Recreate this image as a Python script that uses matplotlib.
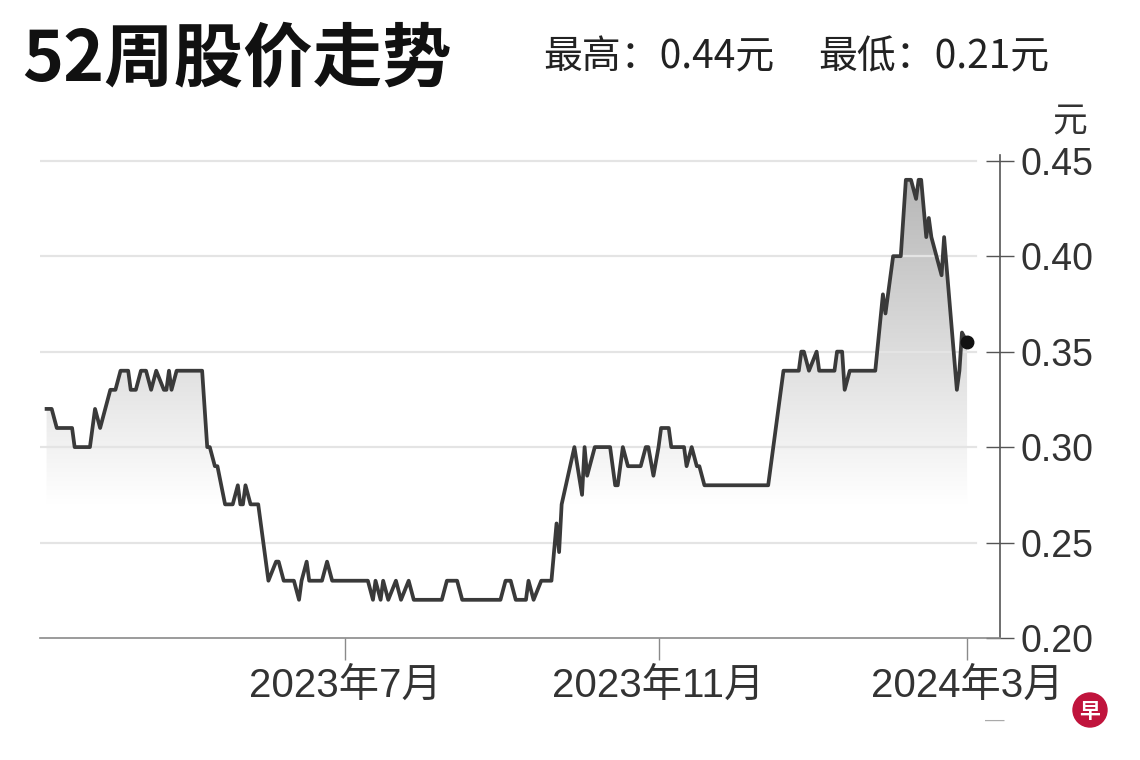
import numpy as np
import pandas as pd
import matplotlib
matplotlib.use('Agg')
import matplotlib.pyplot as plt
from matplotlib.patches import Ellipse

plt.rcParams['font.family'] = ['Liberation Sans', 'Noto Sans CJK SC', 'DejaVu Sans']

# 52-week closing prices (yuan)
dates = [
    '2023-03-06', '2023-03-08', '2023-03-10', '2023-03-16', '2023-03-17', '2023-03-23',
    '2023-03-25', '2023-03-27', '2023-03-29', '2023-03-31', '2023-04-02', '2023-04-04',
    '2023-04-07', '2023-04-08', '2023-04-10', '2023-04-12', '2023-04-14', '2023-04-16',
    '2023-04-18', '2023-04-21', '2023-04-22', '2023-04-23', '2023-04-24', '2023-04-26',
    '2023-05-06', '2023-05-08', '2023-05-09', '2023-05-11', '2023-05-12', '2023-05-15',
    '2023-05-18', '2023-05-20', '2023-05-21', '2023-05-22', '2023-05-23', '2023-05-25',
    '2023-05-28', '2023-06-01', '2023-06-04', '2023-06-05', '2023-06-07', '2023-06-11',
    '2023-06-13', '2023-06-14', '2023-06-16', '2023-06-17', '2023-06-22', '2023-06-24',
    '2023-06-26', '2023-07-10', '2023-07-12', '2023-07-13', '2023-07-15', '2023-07-16',
    '2023-07-18', '2023-07-21', '2023-07-23', '2023-07-26', '2023-07-28', '2023-08-08',
    '2023-08-10', '2023-08-14', '2023-08-16', '2023-08-31', '2023-09-02', '2023-09-04',
    '2023-09-06', '2023-09-10', '2023-09-11', '2023-09-13', '2023-09-16', '2023-09-20',
    '2023-09-22', '2023-09-23', '2023-09-24', '2023-09-29', '2023-10-02', '2023-10-03',
    '2023-10-04', '2023-10-06', '2023-10-07', '2023-10-13', '2023-10-15', '2023-10-16',
    '2023-10-18', '2023-10-20', '2023-10-25', '2023-10-27', '2023-10-28', '2023-10-30',
    '2023-11-01', '2023-11-02', '2023-11-05', '2023-11-06', '2023-11-11', '2023-11-12',
    '2023-11-14', '2023-11-16', '2023-11-17', '2023-11-19', '2023-12-14', '2023-12-20',
    '2023-12-26', '2023-12-27', '2023-12-28', '2023-12-30', '2024-01-02', '2024-01-03',
    '2024-01-09', '2024-01-10', '2024-01-12', '2024-01-13', '2024-01-15', '2024-01-25',
    '2024-01-28', '2024-01-29', '2024-02-01', '2024-02-04', '2024-02-06', '2024-02-08',
    '2024-02-10', '2024-02-11', '2024-02-12', '2024-02-14', '2024-02-15', '2024-02-16',
    '2024-02-20', '2024-02-21', '2024-02-26', '2024-02-27', '2024-02-28', '2024-03-01',
]
prices = [
    0.32, 0.32, 0.31, 0.31, 0.30, 0.30,
    0.32, 0.31, 0.32, 0.33, 0.33, 0.34,
    0.34, 0.33, 0.33, 0.34, 0.34, 0.33,
    0.34, 0.33, 0.33, 0.34, 0.33, 0.34,
    0.34, 0.30, 0.30, 0.29, 0.29, 0.27,
    0.27, 0.28, 0.27, 0.27, 0.28, 0.27,
    0.27, 0.23, 0.24, 0.24, 0.23, 0.23,
    0.22, 0.23, 0.24, 0.23, 0.23, 0.24,
    0.23, 0.23, 0.22, 0.23, 0.22, 0.23,
    0.22, 0.23, 0.22, 0.23, 0.22, 0.22,
    0.23, 0.23, 0.22, 0.22, 0.23, 0.23,
    0.22, 0.22, 0.23, 0.22, 0.23, 0.23,
    0.26, 0.245, 0.27, 0.30, 0.275, 0.30,
    0.285, 0.295, 0.30, 0.30, 0.28, 0.28,
    0.30, 0.29, 0.29, 0.30, 0.30, 0.285,
    0.30, 0.31, 0.31, 0.30, 0.30, 0.29,
    0.30, 0.29, 0.29, 0.28, 0.28, 0.34,
    0.34, 0.35, 0.35, 0.34, 0.35, 0.34,
    0.34, 0.35, 0.35, 0.33, 0.34, 0.34,
    0.38, 0.37, 0.40, 0.40, 0.44, 0.44,
    0.43, 0.44, 0.44, 0.41, 0.42, 0.41,
    0.39, 0.41, 0.33, 0.34, 0.36, 0.355,
]
high_52w = 0.44
low_52w = 0.21

tick_dates = ['2023-07-01', '2023-11-01', '2024-03-01']
tick_labels = ['2023年7月', '2023年11月', '2024年3月']
y_ticks = [0.20, 0.25, 0.30, 0.35, 0.40, 0.45]

W, H = 1140, 760
fig = plt.figure(figsize=(W / 100, H / 100), dpi=100)
ax = fig.add_axes([40 / W, 1 - 638 / H, 960 / W, 483 / H])

x = pd.to_datetime(dates)
xmin = pd.Timestamp('2023-03-03 10:00')
xmax = pd.Timestamp('2024-03-13 22:00')
ymin, ymax = 0.20, 0.453

# gradient fill under the line
fill = ax.fill_between(x, prices, ymin, facecolor='none', edgecolor='none')
yy = np.linspace(ymin, 0.45, 256)
g = np.clip((yy - 0.27) / (0.45 - 0.27), 0, 1)
lvl = 1 - 0.30 * g
img = np.dstack([lvl, lvl, lvl]).reshape(256, 1, 3)
x0, x1 = matplotlib.dates.date2num([xmin, xmax])
im = ax.imshow(img, extent=[x0, x1, ymin, 0.45], origin='lower',
               aspect='auto', zorder=1, interpolation='bilinear')
im.set_clip_path(fill.get_paths()[0], transform=ax.transData)

for v in y_ticks[1:]:
    ax.axhline(v, xmin=0, xmax=0.975, color='#e4e4e4', lw=1.6, zorder=2)

ax.plot(x, prices, color='#3a3a3a', lw=2.7, zorder=3, solid_joinstyle='round')
ax.plot(x[-1], prices[-1], 'o', color='#111111', ms=9, zorder=4)

ax.set_xlim(xmin, xmax)
ax.set_ylim(ymin, ymax)

for s in ['top', 'left']:
    ax.spines[s].set_visible(False)
ax.spines['right'].set_color('#555555')
ax.spines['right'].set_linewidth(1.2)
ax.spines['bottom'].set_color('#8a8a8a')
ax.spines['bottom'].set_linewidth(1.2)

ax.yaxis.tick_right()
ax.set_yticks(y_ticks)
ax.set_yticklabels([f'{v:.2f}' for v in y_ticks])
ax.tick_params(axis='y', direction='inout', length=20, width=1, colors='#555555',
               labelcolor='#333333', labelsize=27, pad=5)

ax.set_xticks(pd.to_datetime(tick_dates))
ax.set_xticklabels(tick_labels)
ax.tick_params(axis='x', direction='out', length=16, width=1, colors='#8a8a8a',
               labelcolor='#333333', labelsize=29, pad=5)

fig.text(1070 / W, 1 - 122 / H, '元', ha='center', va='center', fontsize=25,
         color='#333333', family=['Noto Sans CJK SC'])

fig.text(22 / W, 1 - 60 / H, '52周股价走势', ha='left', va='center', fontsize=50,
         fontweight='bold', color='#111111', family=['Noto Sans CJK SC'])
fig.text(543 / W, 1 - 57 / H, f'最高：{high_52w:.2f}元', ha='left', va='center',
         fontsize=28, color='#222222', family=['Noto Sans CJK SC'])
fig.text(818 / W, 1 - 57 / H, f'最低：{low_52w:.2f}元', ha='left', va='center',
         fontsize=28, color='#222222', family=['Noto Sans CJK SC'])

# logo mark
fig.add_artist(Ellipse((1090 / W, 1 - 710 / H), width=34 / W, height=34 / H,
                       transform=fig.transFigure, color='#c0143c'))
fig.text(1090 / W, 1 - 711 / H, '早', ha='center', va='center', fontsize=15,
         fontweight='bold', color='white', family=['Noto Sans CJK SC'])
fig.text(995 / W, 1 - 720 / H, '—', ha='center', va='center', fontsize=14,
         color='#aaaaaa')

fig.savefig('out.png', dpi=100)
